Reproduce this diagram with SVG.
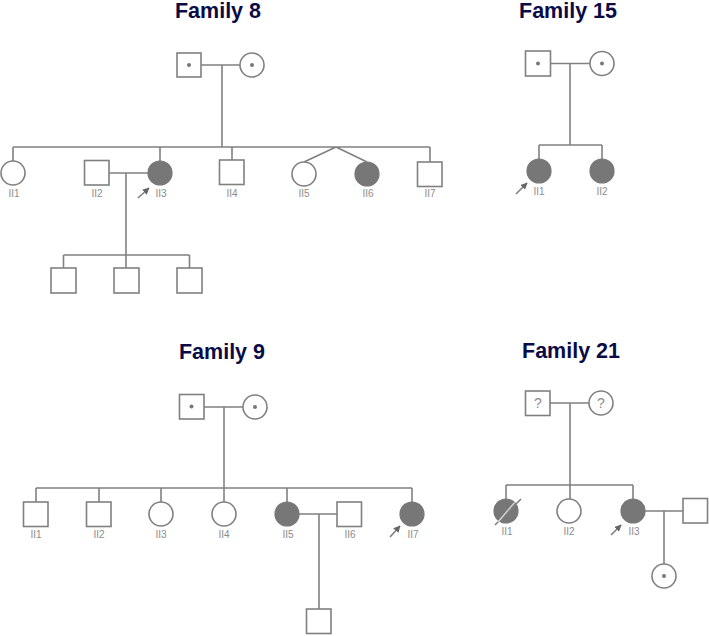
<svg xmlns="http://www.w3.org/2000/svg" width="709" height="636" viewBox="0 0 709 636">
<defs>
<style>
.t{font-family:"Liberation Sans",Arial,sans-serif;font-weight:bold;font-size:21.5px;fill:#0b0b45;text-anchor:middle}
.l{font-family:"Liberation Sans",Arial,sans-serif;font-size:10px;fill:#8c8c8c;text-anchor:middle}
.q{font-family:"Liberation Sans",Arial,sans-serif;font-size:14px;fill:#8c8c8c;text-anchor:middle}
.n{fill:#fff;stroke:#808080;stroke-width:1.6}
.a{fill:#777;stroke:#777;stroke-width:1.2}
.c{fill:none;stroke:#808080;stroke-width:1.6}
.d{fill:#777}
.s{stroke:#d8d8d8;stroke-width:1.3;fill:none}
</style>
<marker id="ar" viewBox="0 0 10 10" refX="9" refY="5" markerWidth="7" markerHeight="7" orient="auto" markerUnits="userSpaceOnUse">
<path d="M0,0 L10,5 L0,10 z" fill="#666"/>
</marker>
</defs>
<rect width="709" height="636" fill="#fff"/>
<g id="titles">
<text class="t" x="218" y="18">Family 8</text>
<text class="t" x="568" y="18">Family 15</text>
<text class="t" x="222" y="359">Family 9</text>
<text class="t" x="571" y="358">Family 21</text>
</g>
<g id="connectors">
<path class="c" d="M201,65 H240 M222,65 V147 M13,147 H430 M13,147 V161 M160,147 V161 M232,147 V160 M430,147 V162 M336,147 L304,162 M336,147 L367,162 M109,173 H148 M126,173 V255 M63.5,255 H189.5 M63.5,255 V268 M126,255 V268 M189.5,255 V268"/>
<path class="c" d="M551,63.5 H590 M570,63.5 V145 M539,145 H602 M539,145 V159 M602,145 V159"/>
<path class="c" d="M204,407 H243 M224,407 V488 M36,488 H412 M36,488 V502 M99,488 V502 M161,488 V502 M224,488 V502 M287,488 V502 M412,488 V502 M299,514 H337 M319,514 V609"/>
<path class="c" d="M550,403 H589 M570,403 V499 M506,485 H633 M506,485 V499 M633,485 V499 M645,511 H683 M664,511 V564"/>
<line class="c" x1="138" y1="198" x2="149" y2="188" marker-end="url(#ar)" stroke="#666"/>
<line class="c" x1="516" y1="194" x2="527" y2="183" marker-end="url(#ar)" stroke="#666"/>
<line class="c" x1="390" y1="537" x2="400" y2="526" marker-end="url(#ar)" stroke="#666"/>
<line class="c" x1="611" y1="535" x2="621" y2="525" marker-end="url(#ar)" stroke="#666"/>
</g>
<g id="f8-I1"><rect class="n" x="177" y="53" width="24" height="24"/><circle class="d" cx="189" cy="65" r="2"/></g>
<g id="f8-I2"><circle class="n" cx="252" cy="65" r="12"/><circle class="d" cx="252" cy="65" r="2"/></g>
<g id="f8-II1"><circle class="n" cx="13" cy="173" r="12"/><text class="l" x="14" y="197">II1</text></g>
<g id="f8-II2"><rect class="n" x="84.5" y="160.5" width="24.5" height="24.5"/><text class="l" x="97" y="197">II2</text></g>
<g id="f8-II3"><circle class="a" cx="160" cy="173" r="12"/><text class="l" x="161" y="197">II3</text></g>
<g id="f8-II4"><rect class="n" x="219.5" y="160" width="24.5" height="24.5"/><text class="l" x="232" y="197">II4</text></g>
<g id="f8-II5"><circle class="n" cx="304" cy="174" r="12"/><text class="l" x="304" y="197">II5</text></g>
<g id="f8-II6"><circle class="a" cx="367" cy="174" r="12"/><text class="l" x="368" y="197">II6</text></g>
<g id="f8-II7"><rect class="n" x="417.5" y="162" width="24.5" height="24.5"/><text class="l" x="430" y="197">II7</text></g>
<g id="f8-III1"><rect class="n" x="51" y="268" width="25" height="25"/></g>
<g id="f8-III2"><rect class="n" x="114" y="268" width="25" height="25"/></g>
<g id="f8-III3"><rect class="n" x="177" y="268" width="25" height="25"/></g>
<g id="f15-I1"><rect class="n" x="525.5" y="51" width="25" height="25"/><circle class="d" cx="538" cy="63.5" r="2"/></g>
<g id="f15-I2"><circle class="n" cx="602" cy="63.5" r="12"/><circle class="d" cx="602" cy="63.5" r="2"/></g>
<g id="f15-II1"><circle class="a" cx="539" cy="171" r="12"/><text class="l" x="539" y="195">II1</text></g>
<g id="f15-II2"><circle class="a" cx="602" cy="171" r="12"/><text class="l" x="602" y="195">II2</text></g>
<g id="f9-I1"><rect class="n" x="179.5" y="394.5" width="24.5" height="24.5"/><circle class="d" cx="191.5" cy="406.5" r="2"/></g>
<g id="f9-I2"><circle class="n" cx="255" cy="407" r="12"/><circle class="d" cx="255" cy="407" r="2"/></g>
<g id="f9-II1"><rect class="n" x="23.5" y="502" width="24.5" height="24.5"/><text class="l" x="36" y="538">II1</text></g>
<g id="f9-II2"><rect class="n" x="86.5" y="502" width="24.5" height="24.5"/><text class="l" x="99" y="538">II2</text></g>
<g id="f9-II3"><circle class="n" cx="161" cy="514" r="12"/><text class="l" x="161" y="538">II3</text></g>
<g id="f9-II4"><circle class="n" cx="224" cy="514" r="12"/><text class="l" x="224" y="538">II4</text></g>
<g id="f9-II5"><circle class="a" cx="287" cy="514" r="12"/><text class="l" x="288" y="538">II5</text></g>
<g id="f9-II6"><rect class="n" x="337" y="502" width="24.5" height="24.5"/><text class="l" x="350" y="538">II6</text></g>
<g id="f9-II7"><circle class="a" cx="412" cy="514" r="12"/><text class="l" x="413" y="538">II7</text></g>
<g id="f9-III1"><rect class="n" x="306.5" y="609" width="24.5" height="24.5"/></g>
<g id="f21-I1"><rect class="n" x="525.5" y="391" width="24.5" height="24.5"/><text class="q" x="538" y="408">?</text></g>
<g id="f21-I2"><circle class="n" cx="601" cy="403" r="12"/><text class="q" x="601" y="408">?</text></g>
<g id="f21-II1"><circle class="a" cx="506" cy="511" r="12"/><line class="c" x1="495" y1="525" x2="521" y2="499"/><line class="s" x1="498" y1="522" x2="514.5" y2="502.5"/><text class="l" x="507" y="535">II1</text></g>
<g id="f21-II2"><circle class="n" cx="569" cy="511" r="12"/><text class="l" x="569" y="535">II2</text></g>
<g id="f21-II3"><circle class="a" cx="633" cy="511" r="12"/><text class="l" x="634" y="535">II3</text></g>
<g id="f21-II4"><rect class="n" x="683" y="498.5" width="24.5" height="24.5"/></g>
<g id="f21-III1"><circle class="n" cx="664" cy="576" r="12"/><circle class="d" cx="664" cy="576" r="2"/></g>
</svg>
